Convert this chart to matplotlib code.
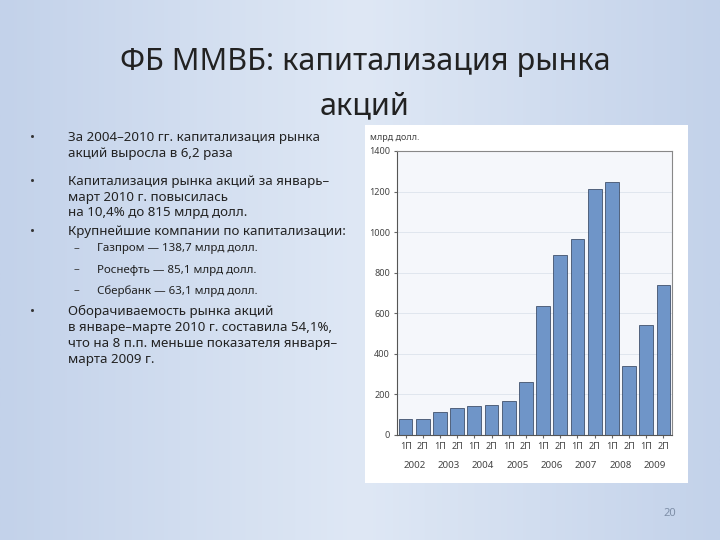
import matplotlib
matplotlib.use("Agg")
import matplotlib.pyplot as plt
import numpy as np
from matplotlib.colors import LinearSegmentedColormap

plt.rcParams['font.family'] = ['Noto Sans', 'DejaVu Sans']

years = ['2002', '2003', '2004', '2005', '2006', '2007', '2008', '2009']
halves = ['1П', '2П']
values = [80, 80, 115, 135, 145, 150, 170, 260, 635, 885, 965, 1215, 1245, 340, 540, 740]
yticks = [0, 200, 400, 600, 800, 1000, 1200, 1400]

W, H = 720, 540
fig = plt.figure(figsize=(7.2, 5.4), dpi=100)

bg = fig.add_axes([0, 0, 1, 1])
grad = np.linspace(0, 1, 256).reshape(1, -1)
cmap = LinearSegmentedColormap.from_list('bg', ['#c3d2ea', '#dfe8f5', '#c3d2ea'])
bg.imshow(grad, aspect='auto', cmap=cmap, extent=[0, 1, 0, 1])
bg.set_xlim(0, 1); bg.set_ylim(0, 1); bg.axis('off')

def fx(x): return x / W
def fy(y): return 1 - y / H

fig.text(fx(365), fy(62), 'ФБ ММВБ: капитализация рынка', ha='center', va='center', fontsize=22, color='#222222')
fig.text(fx(365), fy(106), 'акций', ha='center', va='center', fontsize=22, color='#222222')

fs = 9.6
bullets = [
    (137, ['За 2004–2010 гг. капитализация рынка', 'акций выросла в 6,2 раза']),
    (181, ['Капитализация рынка акций за январь–', 'март 2010 г. повысилась', 'на 10,4% до 815 млрд долл.']),
    (232, ['Крупнейшие компании по капитализации:']),
    (311, ['Оборачиваемость рынка акций', 'в январе–марте 2010 г. составила 54,1%,',
           'что на 8 п.п. меньше показателя января–', 'марта 2009 г.']),
]
for y0, ls in bullets:
    fig.text(fx(30), fy(y0), '•', ha='left', va='center', fontsize=fs, color='#333333')
    for j, t in enumerate(ls):
        fig.text(fx(68), fy(y0 + j * 16), t, ha='left', va='center', fontsize=fs, color='#222222')
subs = ['Газпром — 138,7 млрд долл.', 'Роснефть — 85,1 млрд долл.', 'Сбербанк — 63,1 млрд долл.']
for i, s in enumerate(subs):
    y = 249 + i * 21
    fig.text(fx(74), fy(y), '–', ha='left', va='center', fontsize=8.3, color='#333333')
    fig.text(fx(97), fy(y), s, ha='left', va='center', fontsize=8.3, color='#222222')

panel = fig.add_axes([fx(365), fy(483), fx(688 - 365), (483 - 125) / H])
panel.set_facecolor('white'); panel.set_xticks([]); panel.set_yticks([])
for s in panel.spines.values(): s.set_visible(False)

ax = fig.add_axes([fx(397), fy(435), fx(672 - 397), (435 - 151) / H])
ax.set_facecolor('#f5f7fb')
x = np.arange(len(values))
ax.bar(x, values, width=0.8, color='#6f95c8', edgecolor='#2a3a55', linewidth=0.5)
ax.set_xlim(-0.5, len(values) - 0.5)
ax.set_ylim(0, 1400)
ax.set_yticks(yticks)
ax.set_yticklabels([str(v) for v in yticks], fontsize=6.5, color='#444444')
ax.yaxis.grid(True, color='#dde3ec', linewidth=0.6)
ax.set_axisbelow(True)
ax.set_xticks(x)
ax.set_xticklabels([halves[i % 2] for i in x], fontsize=6.5, color='#444444')
ax.tick_params(axis='both', length=2, color='#666666', pad=3)
for i, yr in enumerate(years):
    ax.text(2 * i + 0.5, -0.09, yr, transform=ax.get_xaxis_transform(), ha='center', va='top', fontsize=7, color='#444444')
for s in ['top', 'right']:
    ax.spines[s].set_color('#888888')
for s in ['left', 'bottom']:
    ax.spines[s].set_color('#555555')
fig.text(fx(370), fy(138), 'млрд долл.', ha='left', va='center', fontsize=6.5, color='#444444')

fig.text(fx(670), fy(513), '20', ha='center', va='center', fontsize=8, color='#7f8fa8')

fig.savefig('out.png', dpi=100)
